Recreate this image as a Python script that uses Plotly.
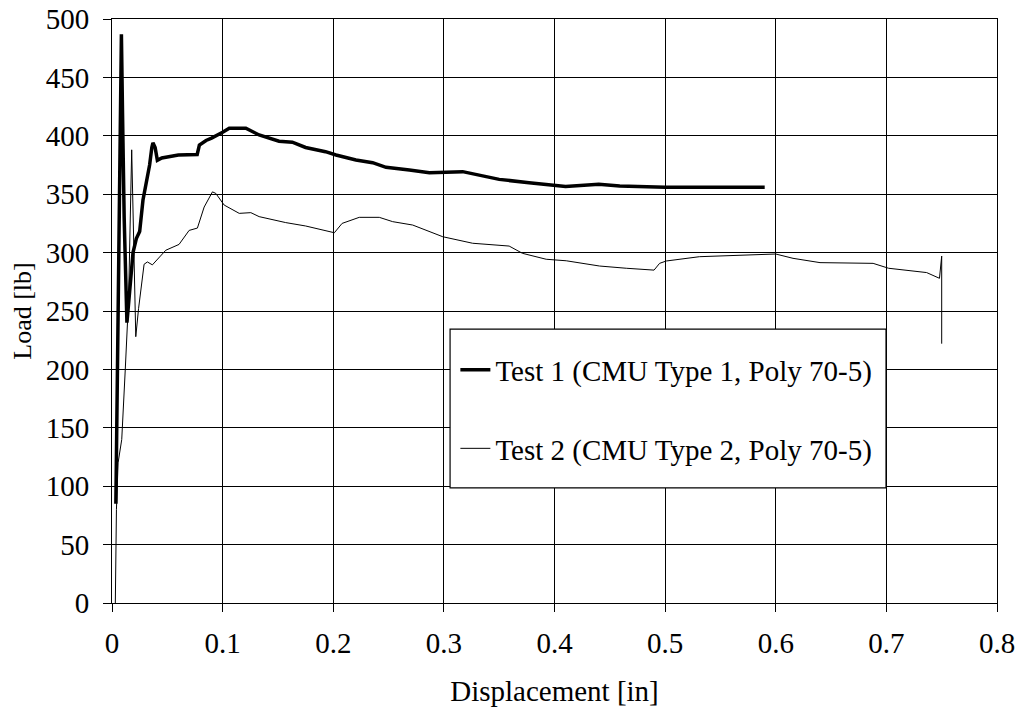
import plotly.graph_objects as go

# Test 1 (CMU Type 1, Poly 70-5)
t1_disp = [0.0035, 0.005, 0.0065, 0.0085, 0.0095, 0.011, 0.0135, 0.016, 0.019, 0.022,
           0.025, 0.028, 0.031, 0.034, 0.036, 0.037, 0.039, 0.041, 0.045, 0.05,
           0.06, 0.077, 0.079, 0.085, 0.09, 0.1, 0.106, 0.121, 0.133, 0.151,
           0.163, 0.175, 0.193, 0.2025, 0.2205, 0.2356, 0.2477, 0.2688, 0.2869, 0.317,
           0.332, 0.35, 0.377, 0.41, 0.44, 0.459, 0.5, 0.54, 0.59]
t1_load = [85, 200, 350, 487, 420, 330, 240, 270, 300, 312,
           318, 345, 360, 375, 390, 394, 390, 379, 381, 382,
           383.5, 384, 392, 396, 398, 403, 406.5, 406.5, 400.7, 395.3,
           394.5, 390, 386.4, 383.6, 379.3, 377, 373, 370.7, 368.4, 369.3,
           366.4, 362.7, 359.8, 356.5, 358.5, 357, 356, 355.9, 356]

# Test 2 (CMU Type 2, Poly 70-5)
t2_disp = [0.003, 0.004, 0.0055, 0.0088, 0.012, 0.015, 0.0178, 0.0195, 0.0215, 0.024,
           0.027, 0.029, 0.032, 0.0365, 0.0486, 0.0606, 0.0697, 0.0772, 0.0833, 0.0908,
           0.0938, 0.1014, 0.115, 0.1255, 0.133, 0.157, 0.175, 0.19, 0.201, 0.208,
           0.2235, 0.2416, 0.2537, 0.2718, 0.299, 0.326, 0.359, 0.371, 0.3925, 0.4106,
           0.4407, 0.4649, 0.49, 0.495, 0.501, 0.531, 0.57, 0.6, 0.6156, 0.64,
           0.688, 0.702, 0.7364, 0.748, 0.75, 0.75]
t2_load = [0, 80, 120, 140, 200, 260, 388, 300, 228, 252,
           275, 290, 292, 289.5, 302, 307, 319, 321, 339, 352,
           350.7, 340.7, 333.6, 334.2, 330.8, 325.7, 322.8, 319.3, 317, 325,
           330.2, 330.2, 326.5, 323.6, 313.6, 308, 305.6, 299.4, 294.3, 293,
           288.5, 286.6, 285, 290.8, 292.8, 296.5, 297.9, 298.8, 295.1, 291.4,
           290.8, 286.6, 282.9, 278, 297, 222]

x_ticks = [0, 0.1, 0.2, 0.3, 0.4, 0.5, 0.6, 0.7, 0.8]
x_tick_text = ["0", "0.1", "0.2", "0.3", "0.4", "0.5", "0.6", "0.7", "0.8"]
y_ticks = [0, 50, 100, 150, 200, 250, 300, 350, 400, 450, 500]

FONT = "Liberation Serif, Times New Roman, serif"
FS = 29

fig = go.Figure()
fig.add_trace(go.Scatter(x=t1_disp, y=t1_load, mode="lines",
                         name="Test 1 (CMU Type 1, Poly 70-5)",
                         line=dict(color="black", width=3.5),
                         legendgroup="a"))
fig.add_trace(go.Scatter(x=t2_disp, y=t2_load, mode="lines",
                         name="Test 2 (CMU Type 2, Poly 70-5)",
                         line=dict(color="black", width=1),
                         legendgroup="b"))

# legend frame
fig.add_shape(type="rect", xref="paper", yref="paper",
              x0=0.382, x1=0.8746, y0=0.197, y1=0.469,
              line=dict(color="black", width=1.2), fillcolor="white",
              layer="above")

fig.update_layout(
    width=1024, height=717,
    margin=dict(l=104, r=35, t=11, b=122, autoexpand=False),
    paper_bgcolor="white", plot_bgcolor="white",
    font=dict(family=FONT, size=FS, color="black"),
    showlegend=True,
    legend=dict(x=0.388, y=0.443, xanchor="left", yanchor="top",
                bgcolor="rgba(0,0,0,0)", borderwidth=0,
                font=dict(family=FONT, size=FS, color="black"),
                tracegroupgap=38, itemwidth=30),
    xaxis=dict(range=[0, 0.8], tickvals=x_ticks, ticktext=x_tick_text,
               showgrid=True, gridcolor="black", gridwidth=1,
               showline=True, linecolor="black", linewidth=1, mirror=True,
               ticks="outside", ticklen=8, tickcolor="black",
               ticklabelstandoff=6, zeroline=False, automargin=False,
               ticklabeloverflow="allow",
               title=dict(text="Displacement [in]", standoff=22,
                          font=dict(family=FONT, size=FS))),
    yaxis=dict(range=[0, 500], tickvals=y_ticks,
               showgrid=True, gridcolor="black", gridwidth=1,
               showline=True, linecolor="black", linewidth=1, mirror=True,
               ticks="outside", ticklen=8, tickcolor="black",
               ticklabelstandoff=8, zeroline=False, automargin=False,
               ticklabeloverflow="allow",
               title=dict(text="Load [lb]", standoff=12,
                          font=dict(family=FONT, size=26))),
)

fig.write_html("out.html")
